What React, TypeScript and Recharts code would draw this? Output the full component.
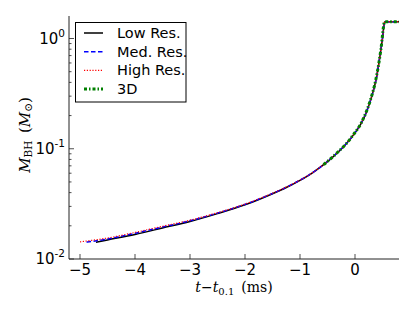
import { Legend, Line, LineChart, XAxis, YAxis } from "recharts";

// time since t_0.1 (ms) and black hole mass (M_sun)
const lowT = [-4.71, -4.5, -4.0, -3.5, -3.0, -2.5, -2.0, -1.5, -1.25, -1.0, -0.8, -0.6, -0.4, -0.2, 0.0, 0.1, 0.2, 0.3, 0.4, 0.45, 0.5, 0.54, 0.8];
const lowM = [0.0142, 0.0149, 0.0167, 0.0191, 0.0219, 0.0258, 0.031, 0.0391, 0.0445, 0.0517, 0.0592, 0.0698, 0.0845, 0.1052, 0.1394, 0.1655, 0.2105, 0.294, 0.467, 0.675, 1.0, 1.42, 1.42];

const medT = [-4.88, -4.5, -4.0, -3.5, -3.0, -2.5, -2.0, -1.5, -1.25, -1.0, -0.8, -0.6, -0.4, -0.2, 0.0, 0.1, 0.2, 0.3, 0.4, 0.45, 0.5, 0.54, 0.8];
const medM = [0.0142, 0.0152, 0.0171, 0.0195, 0.0222, 0.0261, 0.0313, 0.0393, 0.0447, 0.0519, 0.0594, 0.07, 0.0847, 0.1054, 0.1396, 0.166, 0.211, 0.295, 0.468, 0.676, 1.0, 1.42, 1.42];

const highT = [-5.0, -4.5, -4.0, -3.5, -3.0, -2.5, -2.0, -1.5, -1.25, -1.0, -0.8, -0.6, -0.4, -0.2, 0.0, 0.1, 0.2, 0.3, 0.4, 0.45, 0.5, 0.54, 0.8];
const highM = [0.0143, 0.0155, 0.0174, 0.0198, 0.0225, 0.0263, 0.0315, 0.0395, 0.0449, 0.052, 0.0595, 0.0701, 0.0848, 0.1055, 0.1398, 0.1662, 0.2112, 0.2952, 0.4685, 0.677, 1.0, 1.42, 1.42];

const t3d = [-0.57, -0.43, -0.31, -0.17, -0.04, 0.12, 0.27, 0.38, 0.43, 0.47, 0.54, 0.8];
const m3d = [0.0718, 0.0822, 0.0935, 0.1095, 0.132, 0.174, 0.267, 0.427, 0.583, 0.791, 1.42, 1.42];

const xTicks = [-5, -4, -3, -2, -1, 0];
const yMajor = [0.01, 0.1, 1];
const yExp = ["-2", "-1", "0"];
const yMinor = [0.02, 0.03, 0.04, 0.05, 0.06, 0.07, 0.08, 0.09, 0.2, 0.3, 0.4, 0.5, 0.6, 0.7, 0.8, 0.9];

const series = [
  { name: "Low Res.", t: lowT, m: lowM, color: "#000000", width: 1.5, dash: undefined },
  { name: "Med. Res.", t: medT, m: medM, color: "#0000ff", width: 1.5, dash: "4.5 2.5" },
  { name: "High Res.", t: highT, m: highM, color: "#ff0000", width: 1.2, dash: "1.2 1.6" },
  { name: "3D", t: t3d, m: m3d, color: "#008000", width: 3, dash: "3 2 1.5 2" },
];

const toRows = (t: number[], m: number[]) => t.map((v, i) => ({ t: v, m: m[i] }));

const SANS = "'DejaVu Sans', sans-serif";
const SERIF = "'DejaVu Serif', serif";
const FRAME = "#222";

const majorIndex = (v: number) => yMajor.findIndex((u) => Math.abs(u - v) < 1e-9);

function LeftTick({ x, y, payload }: any) {
  const i = majorIndex(payload.value);
  const len = i >= 0 ? 5 : 2.5;
  return (
    <g>
      <line x1={x} x2={x + len} y1={y} y2={y} stroke={FRAME} strokeWidth={0.8} />
      {i >= 0 && (
        <text x={x - 4} y={y + 5} textAnchor="end" fontFamily={SANS} fontSize={15} fill="#000">
          10
          <tspan dy={-7} fontSize={10.5}>
            {yExp[i]}
          </tspan>
        </text>
      )}
    </g>
  );
}

function RightTick({ x, y, payload }: any) {
  const len = majorIndex(payload.value) >= 0 ? 5 : 2.5;
  return <line x1={x} x2={x - len} y1={y} y2={y} stroke={FRAME} strokeWidth={0.8} />;
}

function BottomTick({ x, y, payload }: any) {
  const v = payload.value as number;
  const label = v < 0 ? `\u2212${Math.abs(v)}` : `${v}`;
  return (
    <g>
      <line x1={x} x2={x} y1={y} y2={y - 5} stroke={FRAME} strokeWidth={0.8} />
      <text x={x} y={y + 15.5} textAnchor="middle" fontFamily={SANS} fontSize={15} fill="#000">
        {label}
      </text>
    </g>
  );
}

function TopTick({ x, y }: any) {
  return <line x1={x} x2={x} y1={y} y2={y + 5} stroke={FRAME} strokeWidth={0.8} />;
}

function LegendBox() {
  return (
    <svg width={112} height={82} style={{ display: "block" }}>
      <rect x={0.5} y={0.5} width={110.5} height={79.5} fill="#fff" stroke="#000" strokeWidth={1} />
      {series.map((s, i) => {
        const cy = 11 + i * 18.7;
        return (
          <g key={s.name}>
            <line x1={9} x2={28} y1={cy} y2={cy} stroke={s.color} strokeWidth={s.width} strokeDasharray={s.dash} />
            <text x={42} y={cy + 5} fontFamily={SANS} fontSize={14.5} fill="#000">
              {s.name}
            </text>
          </g>
        );
      })}
    </svg>
  );
}

export default function App() {
  return (
    <div style={{ position: "absolute", left: 0, top: 0, width: 415, height: 312, background: "#fff" }}>
      <LineChart width={415} height={312} margin={{ top: 16, right: 16, bottom: 0, left: 0 }}>
        <XAxis
          xAxisId="b"
          dataKey="t"
          type="number"
          domain={[-5.2, 0.8]}
          ticks={xTicks}
          interval={0}
          allowDataOverflow
          height={53}
          tickSize={0}
          tickMargin={0}
          tick={<BottomTick />}
          tickLine={false}
          axisLine={{ stroke: FRAME, strokeWidth: 1 }}
          label={{
            content: ({ viewBox }: any) => (
              <text
                x={viewBox.x + viewBox.width / 2}
                y={viewBox.y + 33}
                textAnchor="middle"
                fontFamily={SERIF}
                fontSize={14}
                fill="#000"
              >
                <tspan fontStyle="italic">t</tspan>
                <tspan>{"\u2212"}</tspan>
                <tspan fontStyle="italic">t</tspan>
                <tspan fontSize={10} dy={3}>
                  0.1
                </tspan>
                <tspan dy={-3}>{"\u2002(ms)"}</tspan>
              </text>
            ),
          }}
        />
        <XAxis
          xAxisId="top"
          orientation="top"
          dataKey="t"
          type="number"
          domain={[-5.2, 0.8]}
          ticks={xTicks}
          interval={0}
          allowDataOverflow
          height={0}
          tickSize={0}
          tickMargin={0}
          tick={<TopTick />}
          tickLine={false}
          axisLine={{ stroke: FRAME, strokeWidth: 1 }}
        />
        <YAxis
          yAxisId="l"
          dataKey="m"
          scale="log"
          type="number"
          domain={[0.01, 1.6]}
          ticks={[...yMajor, ...yMinor]}
          interval={0}
          allowDataOverflow
          width={69}
          tickSize={0}
          tickMargin={0}
          tick={<LeftTick />}
          tickLine={false}
          axisLine={{ stroke: FRAME, strokeWidth: 1 }}
          label={{
            content: () => {
              const cx = 25;
              const cy = 135;
              return (
                <text
                  x={cx}
                  y={cy}
                  transform={`rotate(-90 ${cx} ${cy})`}
                  textAnchor="middle"
                  dominantBaseline="central"
                  fontFamily={SERIF}
                  fontSize={15}
                  fill="#000"
                >
                  <tspan fontStyle="italic">M</tspan>
                  <tspan fontSize={10.5} dy={3}>
                    BH
                  </tspan>
                  <tspan dy={-3}>{"\u2002("}</tspan>
                  <tspan fontStyle="italic">M</tspan>
                  <tspan fontSize={10.5} dy={3}>
                    {"\u2299"}
                  </tspan>
                  <tspan dy={-3}>)</tspan>
                </text>
              );
            },
          }}
        />
        <YAxis
          yAxisId="r"
          orientation="right"
          dataKey="m"
          scale="log"
          type="number"
          domain={[0.01, 1.6]}
          ticks={[...yMajor, ...yMinor]}
          interval={0}
          allowDataOverflow
          width={0}
          tickSize={0}
          tickMargin={0}
          tick={<RightTick />}
          tickLine={false}
          axisLine={{ stroke: FRAME, strokeWidth: 1 }}
        />
        {/* invisible carrier so the mirrored top/right axes get a scale */}
        <Line
          data={toRows(lowT, lowM)}
          xAxisId="top"
          yAxisId="r"
          dataKey="m"
          stroke="none"
          dot={false}
          activeDot={false}
          legendType="none"
          isAnimationActive={false}
        />
        {series.map((s) => (
          <Line
            key={s.name}
            data={toRows(s.t, s.m)}
            xAxisId="b"
            yAxisId="l"
            type="monotoneX"
            dataKey="m"
            name={s.name}
            stroke={s.color}
            strokeWidth={s.width}
            strokeDasharray={s.dash}
            dot={false}
            activeDot={false}
            isAnimationActive={false}
          />
        ))}
        <Legend
          layout="vertical"
          align="center"
          verticalAlign="middle"
          content={() => <LegendBox />}
          wrapperStyle={{ position: "absolute", left: 75, top: 22, width: 112, height: 82 }}
        />
      </LineChart>
    </div>
  );
}
